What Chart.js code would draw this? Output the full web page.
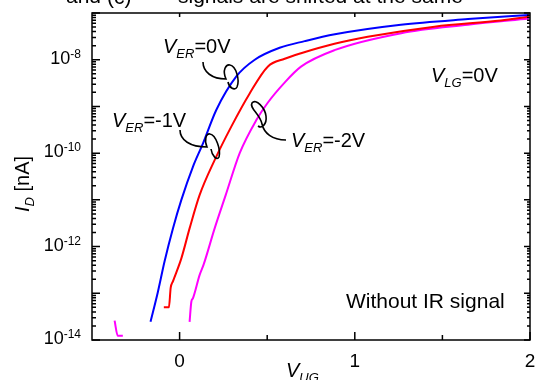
<!DOCTYPE html>
<html>
<head>
<meta charset="utf-8">
<script src="https://cdn.jsdelivr.net/npm/chart.js@4.4.0/dist/chart.umd.min.js"></script>
<style>
  html, body { margin: 0; padding: 0; background: #fff; }
  canvas { display: block; }
</style>
</head>
<body>
<canvas id="grafica" width="538" height="380"></canvas>
<script>
// I_D [nA] vs V_UG [V], V_LG = 0V, without IR signal
const vugEr0 = [-0.166, -0.124, -0.086, -0.038, 0.010, 0.076, 0.133, 0.210, 0.324, 0.429, 0.571, 0.714, 0.886, 1.263, 1.646, 1.994];
const idEr0  = [2.45e-14, 1.07e-13, 4.8e-13, 2.45e-12, 1.0e-11, 5.1e-11, 1.6e-10, 8.5e-10, 4.4e-9, 1.0e-8, 1.8e-8, 2.5e-8, 3.5e-8, 5.6e-8, 7.4e-8, 9.1e-8];

const vugEr1 = [-0.090, -0.061, -0.051, -0.038, 0.010, 0.057, 0.114, 0.200, 0.295, 0.400, 0.503, 0.600, 0.693, 0.884, 1.074, 1.455, 1.834, 1.994];
const idEr1  = [5.0e-14, 5.0e-14, 1.3e-13, 1.8e-13, 5.6e-13, 2.45e-12, 1.26e-11, 7.1e-11, 3.7e-10, 1.9e-9, 7.1e-9, 1.05e-8, 1.38e-8, 2.2e-8, 3.1e-8, 5.1e-8, 6.9e-8, 8.3e-8];

const vugEr2 = [0.057, 0.067, 0.076, 0.114, 0.137, 0.200, 0.263, 0.343, 0.438, 0.503, 0.598, 0.693, 0.884, 1.265, 1.646, 1.994];
const idEr2  = [2.45e-14, 6.6e-14, 7.8e-14, 2.45e-13, 4.1e-13, 2.45e-12, 1.26e-11, 1.0e-10, 5.1e-10, 1.2e-9, 3.2e-9, 7.1e-9, 1.6e-8, 3.7e-8, 5.6e-8, 7.6e-8];
// little stray piece of the -2V curve near the bottom
const vugEr2b = [-0.371, -0.353, -0.324];
const idEr2b  = [2.6e-14, 1.23e-14, 1.23e-14];

const xTicksMajor = [0, 1, 2];
const xTicksMinor = [0.5, 1.5];
const xLabels = ["0", "1", "2"];
const yDecades = [-14, -13, -12, -11, -10, -9, -8, -7];
const yLabelExp = [-8, -10, -12, -14];

const FONT = "'Liberation Sans', Arial, sans-serif";

function puntos(xs, ys) {
  return xs.map((v, i) => ({ x: v, y: ys[i] }));
}

// draws text made of pieces: [text, size, italic, dy]
function texto(ctx, x, y, partes) {
  let cx = x;
  for (const [t, size, ital, dy] of partes) {
    ctx.font = (ital ? "italic " : "") + size + "px " + FONT;
    ctx.fillText(t, cx, y + dy);
    cx += ctx.measureText(t).width;
  }
}

function etiquetaV(ctx, x, y, sub, resto) {
  texto(ctx, x, y, [["V", 20, true, 0], [sub, 13, true, 5], [resto, 20, false, 0]]);
}

const marco = {
  id: "marco",
  afterDatasetsDraw(chart) {
    const { ctx, chartArea: a, scales } = chart;
    const sx = scales.x, sy = scales.y;
    ctx.save();
    ctx.strokeStyle = "#000";
    ctx.fillStyle = "#000";
    ctx.lineWidth = 1.5;
    ctx.strokeRect(a.left, a.top, a.right - a.left, a.bottom - a.top);

    // ticks (pointing inward)
    ctx.beginPath();
    xTicksMajor.forEach(v => {
      const px = sx.getPixelForValue(v);
      ctx.moveTo(px, a.bottom); ctx.lineTo(px, a.bottom - 8);
      if (v < 2) { ctx.moveTo(px, a.top); ctx.lineTo(px, a.top + 4); }
    });
    xTicksMinor.forEach(v => {
      const px = sx.getPixelForValue(v);
      ctx.moveTo(px, a.bottom); ctx.lineTo(px, a.bottom - 5);
      ctx.moveTo(px, a.top); ctx.lineTo(px, a.top + 4);
    });
    yDecades.forEach(e => {
      const py = sy.getPixelForValue(Math.pow(10, e));
      ctx.moveTo(a.left, py); ctx.lineTo(a.left + 8, py);
      ctx.moveTo(a.right, py); ctx.lineTo(a.right - 6, py);
      if (e < -7) {
        for (let m = 2; m <= 9; m++) {
          const pm = sy.getPixelForValue(m * Math.pow(10, e));
          ctx.moveTo(a.left, pm); ctx.lineTo(a.left + 4, pm);
          ctx.moveTo(a.right, pm); ctx.lineTo(a.right - 3, pm);
        }
      }
    });
    ctx.stroke();

    // tick labels
    ctx.textBaseline = "alphabetic";
    ctx.textAlign = "center";
    ctx.font = "19px " + FONT;
    xTicksMajor.forEach((v, i) => {
      ctx.fillText(xLabels[i], sx.getPixelForValue(v), a.bottom + 27);
    });
    ctx.textAlign = "left";
    yLabelExp.forEach(e => {
      const py = sy.getPixelForValue(Math.pow(10, e));
      ctx.font = "12px " + FONT;
      const wSup = ctx.measureText(String(e)).width;
      ctx.font = "18px " + FONT;
      const wBase = ctx.measureText("10").width;
      const x0 = 81 - wSup - wBase;
      ctx.fillText("10", x0, py + 4);
      ctx.font = "12px " + FONT;
      ctx.fillText(String(e), x0 + wBase, py - 2);
    });

    // axis titles
    texto(ctx, 286, 377, [["V", 20, true, 0], ["UG", 13, true, 5]]);
    ctx.save();
    ctx.translate(29, 212);
    ctx.rotate(-Math.PI / 2);
    texto(ctx, 0, 0, [["I", 20, true, 0], ["D", 13, true, 5], [" [nA]", 20, false, 0]]);
    ctx.restore();

    // annotations
    etiquetaV(ctx, 163, 53, "ER", "=0V");
    etiquetaV(ctx, 112, 127, "ER", "=-1V");
    etiquetaV(ctx, 291, 147, "ER", "=-2V");
    etiquetaV(ctx, 431, 82, "LG", "=0V");
    ctx.font = "21px " + FONT;
    ctx.fillText("Without IR signal", 346, 308);

    // curly pointers
    ctx.lineWidth = 1.6;
    ctx.beginPath();
    ctx.moveTo(203, 62);
    ctx.bezierCurveTo(203, 72, 212, 79, 226, 79);
    ctx.bezierCurveTo(222, 70, 226, 64, 230, 65);
    ctx.bezierCurveTo(236, 66, 240, 80, 237, 87);
    ctx.bezierCurveTo(235, 91, 229, 88, 228, 82);

    ctx.moveTo(180, 130);
    ctx.bezierCurveTo(180, 140, 190, 147, 207, 147);
    ctx.bezierCurveTo(204, 140, 206, 133, 210, 134);
    ctx.bezierCurveTo(216, 135, 221, 150, 219, 157);
    ctx.bezierCurveTo(217, 161, 212, 156, 211, 149);

    ctx.moveTo(286, 140);
    ctx.bezierCurveTo(272, 140, 264, 133, 262, 124);
    ctx.bezierCurveTo(260, 114, 249, 108, 252, 103);
    ctx.bezierCurveTo(256, 98, 265, 108, 266, 116);
    ctx.bezierCurveTo(267, 124, 262, 129, 258, 126);
    ctx.stroke();

    // clipped caption line at the very top
    ctx.font = "21px " + FONT;
    ctx.fillText("and", 66, 3);
    ctx.fillText("(c)", 107, 4);
    ctx.fillText("signals are shifted at the same", 178, 3);

    ctx.restore();
  }
};

const ctx = document.getElementById("grafica").getContext("2d");

const chart = new Chart(ctx, {
  type: "line",
  data: {
    datasets: [
      { label: "VER=0V", data: puntos(vugEr0, idEr0), borderColor: "#0000ff" },
      { label: "VER=-1V", data: puntos(vugEr1, idEr1), borderColor: "#ff0000" },
      { label: "VER=-2V", data: puntos(vugEr2, idEr2), borderColor: "#ff00ff" },
      { label: "VER=-2V (b)", data: puntos(vugEr2b, idEr2b), borderColor: "#ff00ff" }
    ]
  },
  options: {
    responsive: false,
    animation: false,
    devicePixelRatio: 1,
    layout: { padding: { left: 92, top: 13, right: 8, bottom: 40 } },
    plugins: { legend: { display: false }, tooltip: { enabled: false } },
    elements: {
      point: { radius: 0 },
      line: { borderWidth: 2, fill: false, cubicInterpolationMode: "monotone" }
    },
    scales: {
      x: { type: "linear", min: -0.5, max: 2, display: false },
      y: { type: "logarithmic", min: 1e-14, max: 1e-7, display: false }
    }
  },
  plugins: [marco]
});
</script>
</body>
</html>
